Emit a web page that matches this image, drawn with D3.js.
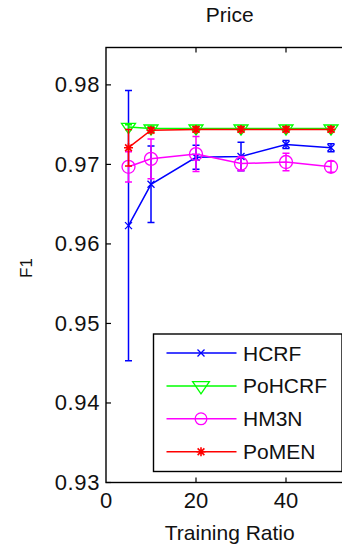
<!DOCTYPE html>
<html>
<head>
<meta charset="utf-8">
<script src="https://cdn.jsdelivr.net/npm/d3@7"></script>
<style>
  html, body { margin: 0; padding: 0; background: #fff; overflow: hidden; }
  svg text { font-family: "Liberation Sans", Arial, sans-serif; fill: #111; }
</style>
</head>
<body>
<svg id="chart" width="342" height="545"></svg>
<script>
// Training ratios (x) and F1 scores with standard deviations per model
const ratios = [5, 10, 20, 30, 40, 50];

const hcrfF1    = [0.9623, 0.9675, 0.9709, 0.9710, 0.9725, 0.9721];
const hcrfStd   = [0.0170, 0.0048, 0.0015, 0.0018, 0.0005, 0.0005];

const pohcrfF1  = [0.9747, 0.9745, 0.9745, 0.9745, 0.9745, 0.9745];
const pohcrfStd = [0.0003, 0.0003, 0.0003, 0.0003, 0.0003, 0.0003];

const hm3nF1    = [0.9697, 0.9707, 0.9713, 0.9701, 0.9703, 0.9697];
const hm3nStd   = [0.0019, 0.0025, 0.0022, 0.0009, 0.0011, 0.0007];

const pomenF1   = [0.9721, 0.9743, 0.9744, 0.9744, 0.9744, 0.9744];
const pomenStd  = [0.0023, 0.0003, 0.0003, 0.0003, 0.0003, 0.0003];

const seriesNames = ["HCRF", "PoHCRF", "HM3N", "PoMEN"];
const yTicks = [0.93, 0.94, 0.95, 0.96, 0.97, 0.98];
const xTicks = [0, 20, 40];
const xLimits = [0, 55];
const yLimits = [0.93, 0.9847];

const series = [
  { name: seriesNames[0], y: hcrfF1,   e: hcrfStd,   color: "#0000ff", marker: "x" },
  { name: seriesNames[1], y: pohcrfF1, e: pohcrfStd, color: "#00ff00", marker: "v" },
  { name: seriesNames[2], y: hm3nF1,   e: hm3nStd,   color: "#ff00ff", marker: "o" },
  { name: seriesNames[3], y: pomenF1,  e: pomenStd,  color: "#ff0000", marker: "*" }
];

const svg = d3.select("#chart");
const box = { left: 106, right: 353.5, top: 47.5, bottom: 482.5 };

const x = d3.scaleLinear().domain(xLimits).range([box.left, box.right]);
const y = d3.scaleLinear().domain(yLimits).range([box.bottom, box.top]);

// Marker shapes in the MATLAB style
function drawMarker(g, type, cx, cy, color, scale) {
  const s = scale || 1;
  if (type === "x") {
    const r = 3.5 * s;
    g.append("path")
      .attr("d", `M${cx - r},${cy - r}L${cx + r},${cy + r}M${cx - r},${cy + r}L${cx + r},${cy - r}`)
      .attr("stroke", color).attr("stroke-width", 1.3).attr("fill", "none");
  } else if (type === "v") {
    const w = 7 * s, h = 6 * s;
    g.append("path")
      .attr("d", `M${cx - w},${cy - h * 0.6}L${cx + w},${cy - h * 0.6}L${cx},${cy + h * 1.1}Z`)
      .attr("stroke", color).attr("stroke-width", 1.3).attr("fill", "none");
  } else if (type === "o") {
    g.append("circle").attr("cx", cx).attr("cy", cy).attr("r", 6.5 * s)
      .attr("stroke", color).attr("stroke-width", 1.3).attr("fill", "none");
  } else if (type === "*") {
    const r = 4.5 * s;
    let d = `M${cx - r},${cy}L${cx + r},${cy}M${cx},${cy - r}L${cx},${cy + r}`;
    const k = r * 0.75;
    d += `M${cx - k},${cy - k}L${cx + k},${cy + k}M${cx - k},${cy + k}L${cx + k},${cy - k}`;
    g.append("path").attr("d", d)
      .attr("stroke", color).attr("stroke-width", 1.6).attr("fill", "none");
  }
}

// Plot series: error bars, connecting line, markers
const plot = svg.append("g");
series.forEach(s => {
  const g = plot.append("g");
  const pts = ratios.map((r, i) => ({ r, v: s.y[i], e: s.e[i] }));
  pts.forEach(p => {
    const cx = x(p.r);
    const yt = y(p.v + p.e), yb = y(p.v - p.e);
    const cap = 3.5;
    g.append("path")
      .attr("d", `M${cx},${yt}L${cx},${yb}M${cx - cap},${yt}L${cx + cap},${yt}M${cx - cap},${yb}L${cx + cap},${yb}`)
      .attr("stroke", s.color).attr("stroke-width", 1.5).attr("fill", "none");
  });
  g.append("path")
    .datum(pts)
    .attr("d", d3.line().x(p => x(p.r)).y(p => y(p.v)))
    .attr("stroke", s.color).attr("stroke-width", 1.5).attr("fill", "none");
  pts.forEach(p => drawMarker(g, s.marker, x(p.r), y(p.v), s.color, 1));
});

// Axes frame
svg.append("rect")
  .attr("x", box.left).attr("y", box.top)
  .attr("width", box.right - box.left).attr("height", box.bottom - box.top)
  .attr("fill", "none").attr("stroke", "#000").attr("stroke-width", 1.4);

const tickLen = 5;
const axisFont = "21px";

// Left axis ticks and labels
const leftAxis = svg.append("g");
yTicks.forEach(t => {
  leftAxis.append("line")
    .attr("x1", box.left).attr("x2", box.left + tickLen)
    .attr("y1", y(t)).attr("y2", y(t))
    .attr("stroke", "#000").attr("stroke-width", 1.2);
  leftAxis.append("text")
    .attr("x", box.left - 6).attr("y", y(t))
    .attr("text-anchor", "end").attr("dominant-baseline", "central")
    .style("font-size", "22px")
    .style("letter-spacing", "0.6px")
    .text(d3.format(".2f")(t));
});

// Bottom and top ticks, bottom labels
const bottomAxis = svg.append("g");
xTicks.forEach(t => {
  if (t !== xLimits[0]) {
    bottomAxis.append("line")
      .attr("x1", x(t)).attr("x2", x(t))
      .attr("y1", box.bottom).attr("y2", box.bottom - tickLen)
      .attr("stroke", "#000").attr("stroke-width", 1.2);
    bottomAxis.append("line")
      .attr("x1", x(t)).attr("x2", x(t))
      .attr("y1", box.top).attr("y2", box.top + tickLen)
      .attr("stroke", "#000").attr("stroke-width", 1.2);
  }
  bottomAxis.append("text")
    .attr("x", x(t)).attr("y", box.bottom + 18)
    .attr("text-anchor", "middle").attr("dominant-baseline", "central")
    .style("font-size", "22px")
    .text(t);
});

// Axis titles and chart title
svg.append("text")
  .attr("x", (box.left + box.right) / 2).attr("y", 532)
  .attr("text-anchor", "middle").attr("dominant-baseline", "central")
  .style("font-size", axisFont)
  .text("Training Ratio");

svg.append("text")
  .attr("transform", `translate(26,${(box.top + box.bottom) / 2 + 3}) rotate(-90)`)
  .attr("text-anchor", "middle").attr("dominant-baseline", "central")
  .style("font-size", "17px")
  .text("F1");

svg.append("text")
  .attr("x", (box.left + box.right) / 2).attr("y", 14)
  .attr("text-anchor", "middle").attr("dominant-baseline", "central")
  .style("font-size", axisFont)
  .text("Price");

// Legend
const legend = svg.append("g");
const lg = { left: 153.5, top: 334, right: 342, bottom: 471.5 };
legend.append("rect")
  .attr("x", lg.left).attr("y", lg.top)
  .attr("width", lg.right - lg.left).attr("height", lg.bottom - lg.top)
  .attr("fill", "#fff").attr("stroke", "#000").attr("stroke-width", 1.4);

series.forEach((s, i) => {
  const cy = 353 + i * 32.9;
  legend.append("line")
    .attr("x1", 166.5).attr("x2", 236.5).attr("y1", cy).attr("y2", cy)
    .attr("stroke", s.color).attr("stroke-width", 1.5);
  drawMarker(legend, s.marker, 201, cy, s.color, s.marker === "v" ? 1.2 : (s.marker === "o" ? 0.9 : 1));
  legend.append("text")
    .attr("x", 243).attr("y", cy)
    .attr("dominant-baseline", "central")
    .style("font-size", axisFont)
    .text(s.name);
});
</script>
</body>
</html>
